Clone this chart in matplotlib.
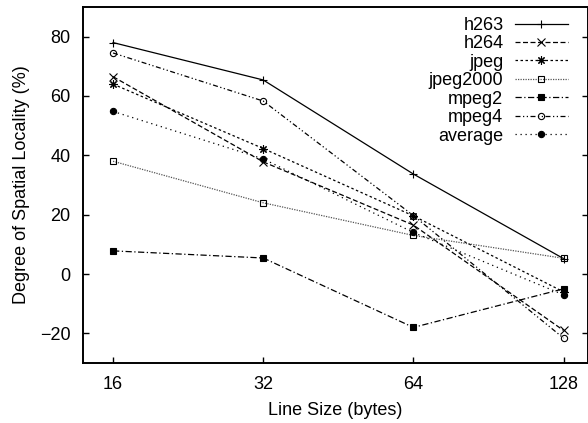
import numpy as np
import matplotlib
matplotlib.use('Agg')
import matplotlib.pyplot as plt

plt.rcParams['font.family'] = ['Liberation Sans', 'DejaVu Sans']

line_sizes = [16, 32, 64, 128]

h263     = [78.0, 65.4, 33.7, 5.2]
h264     = [66.5, 37.8, 16.5, -19.0]
jpeg     = [64.0, 42.3, 19.6, -6.0]
jpeg2000 = [38.0, 24.0, 13.0, 5.3]
mpeg2    = [7.8, 5.4, -18.0, -5.0]
mpeg4    = [74.5, 58.3, 19.7, -21.6]
average  = [54.8, 38.8, 14.0, -7.0]

series = [
    ("h263",     h263,     '-',                 '+',         'black'),
    ("h264",     h264,     (0, (4, 2)),         'x',         'black'),
    ("jpeg",     jpeg,     (0, (2, 2)),         (8, 2, 0),   'black'),
    ("jpeg2000", jpeg2000, (0, (1, 1)),         's',         '#555555'),
    ("mpeg2",    mpeg2,    (0, (5, 2, 1, 2)),   's',         'black'),
    ("mpeg4",    mpeg4,    (0, (4, 2, 1, 2, 1, 2)), 'o',     'black'),
    ("average",  average,  (0, (1, 3)),         'o',         'black'),
]
filled = {"mpeg2", "average"}

fig = plt.figure(figsize=(5.88, 4.23), dpi=100)
ax = fig.add_axes([0.1412, 0.1418, 0.858, 0.8417])

x = np.log2(line_sizes)
for name, vals, ls, mk, col in series:
    face = 'black' if name in filled else 'none'
    ms = 6 if mk in ('+', 'x', (8, 2, 0)) else 4.5
    ax.plot(x, vals, linestyle=ls, color=col, linewidth=0.9,
            marker=mk, markersize=ms, markerfacecolor=face,
            markeredgecolor='black', markeredgewidth=0.8, label=name)

ax.set_xlim(3.8, 7.16)
ax.set_ylim(-30, 90)
ax.set_xticks(x)
ax.set_xticklabels([str(v) for v in line_sizes])
ax.set_yticks([-20, 0, 20, 40, 60, 80])
ax.tick_params(axis='both', direction='in', length=4, width=1, labelsize=13, pad=9)
ax.tick_params(axis='y', right=True)
for s in ax.spines.values():
    s.set_linewidth(1.4)

ax.set_xlabel("Line Size (bytes)", fontsize=13, labelpad=7)
ax.set_ylabel("Degree of Spatial Locality (%)", fontsize=13, labelpad=7)

ax.legend(loc='upper right', frameon=False, markerfirst=False, fontsize=13,
          handlelength=2.9, handletextpad=0.65, labelspacing=0.08,
          borderaxespad=0.15, bbox_to_anchor=(0.98, 1.0))

fig.savefig("out.png", dpi=100)
